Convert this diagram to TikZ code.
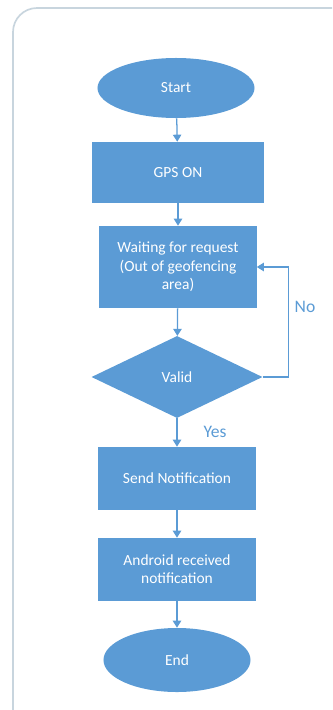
\documentclass[tikz,border=0pt]{standalone}
\usepackage{fontspec}
\setmainfont{Carlito}
\usetikzlibrary{shapes.geometric,arrows.meta}
\definecolor{boxblue}{HTML}{5B9BD5}
\definecolor{framegray}{HTML}{C8D5DE}
\tikzset{
	process/.style={rectangle, fill=boxblue, text=white, align=center, inner sep=0pt, font=\fontsize{11}{13}\selectfont},
	terminal/.style={ellipse, fill=boxblue, text=white, inner sep=0pt, font=\fontsize{11}{13}\selectfont},
	decision/.style={diamond, fill=boxblue, text=white, inner sep=0pt, minimum width=4.275cm, minimum height=2.05cm, font=\fontsize{11}{13}\selectfont},
	flow/.style={draw=boxblue, line width=0.9pt, -{Triangle[length=5pt, width=6pt]}},
	answer/.style={text=boxblue, font=\fontsize{12.5}{15}\selectfont}
}
\begin{document}
\begin{tikzpicture}[x=0.025cm, y=-0.025cm]
		\clip (0,0) rectangle (332,710);
		\draw[framegray, line width=1.2pt, rounded corners=0.6cm] (13,8) rectangle (380,760);
		% nodes
		\node[terminal, minimum width=3.925cm, minimum height=1.5cm] (start) at (176,88) {Start};
		\node[process, minimum width=4.275cm, minimum height=1.525cm] (gps) at (178,172.5) {GPS ON};
		\node[process, minimum width=3.925cm, minimum height=2.05cm] (wait) at (178,267) {Waiting for request\\(Out of geofencing\\area)};
		\node[decision] (valid) at (177,377) {Valid};
		\node[process, minimum width=3.925cm, minimum height=1.575cm] (send) at (177,478.5) {Send Notification};
		\node[process, minimum width=3.925cm, minimum height=1.575cm] (android) at (177,569.5) {Android received\\notification};
		\node[terminal, minimum width=3.675cm, minimum height=1.6cm] (end) at (177,660) {End};
		% arrows
		\draw[flow] (start) -- (gps);
		\draw[flow] (gps) -- (wait);
		\draw[flow] (wait) -- (valid);
		\draw[flow] (valid.east) -- ++(26,0) |- (wait.east);
		\draw[flow] (valid) -- (send);
		\draw[flow] (send) -- (android);
		\draw[flow] (android) -- (end);
		\node[answer] (no) at (305,307) {No};
		\node[answer] (yes) at (215,432) {Yes};
	\end{tikzpicture}
\end{document}
